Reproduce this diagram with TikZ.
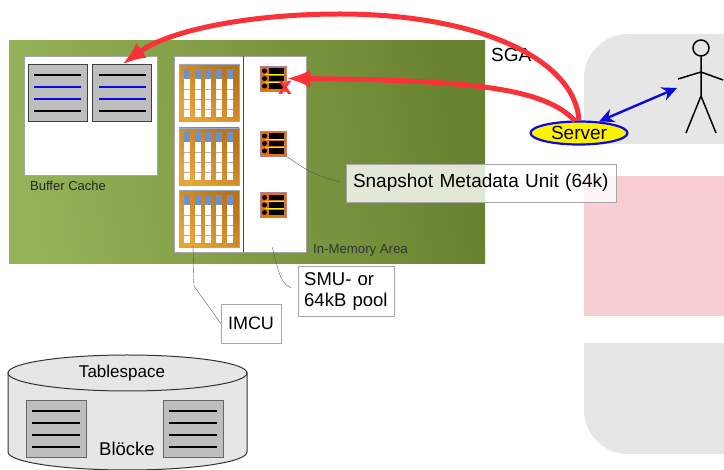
\documentclass[tikz,border=0pt]{standalone}
\usepackage{fontspec}
\setmainfont{Liberation Sans}
\usepackage{xcolor}
\usetikzlibrary{arrows.meta,calc,shapes.geometric}
\definecolor{pinkarea}{RGB}{249,205,212}
\definecolor{grayarea}{RGB}{230,230,230}
\definecolor{blockgray}{RGB}{190,190,190}
\definecolor{sgared}{RGB}{250,50,55}
\definecolor{sgablue}{RGB}{10,10,225}
\definecolor{imcuframe}{RGB}{150,170,200}
\definecolor{imcuhead}{RGB}{110,145,200}
\definecolor{imculight}{RGB}{232,165,55}
\definecolor{imcudark}{RGB}{185,115,25}
\definecolor{sgalight}{RGB}{148,178,88}
\definecolor{sgadark}{RGB}{105,130,48}
\tikzset{
  blockbox/.style={draw=black!75,line width=1pt,fill=blockgray,inner sep=0pt,minimum width=59,minimum height=57},
  whitebox/.style={draw=gray!70,fill=white,inner sep=0pt},
  labelbox/.style={draw=gray!70,fill=white,inner sep=0pt},
  leader/.style={draw=black!70,line width=0.35pt},
  redarrow/.style={draw=sgared,line width=5pt,-{Latex[length=24pt,width=18pt]}},
}
% block with four rows, #4 = colour of the two middle rows
\newcommand{\blockicon}[4]{
\node[blockbox] (#1) at (#2,#3) {};
\foreach \y/\rowcol in {-18/black,-6/#4,6/#4,18/black}
  \draw[draw=\rowcol,line width=2pt] ($(#1)+(-23.5,\y)$) -- ($(#1)+(23.5,\y)$);
}
% one column unit of the in-memory area
\newcommand{\imcuunit}[3]{
\node[draw=imcuframe,line width=0.8pt,inner sep=0pt,minimum width=60,minimum height=57,left color=imculight,right color=imcudark,shading angle=135] (#1) at (#2,#3) {};
\foreach \x in {-22,-11,-1,10,21} {
  \fill[white] ($(#1)+(\x-3,-24)$) rectangle ($(#1)+(\x+3,24)$);
  \fill[imcuhead] ($(#1)+(\x-3,-24)$) rectangle ($(#1)+(\x+3,-14)$);
  \foreach \y in {-4,6,16}
    \draw[gray!60,line width=0.4pt] ($(#1)+(\x-3,\y)$) -- ($(#1)+(\x+3,\y)$);
}
}
\newcommand{\smuicon}[3]{
\node[draw=imcuframe!75!red,line width=0.8pt,fill=orange!90!black,inner sep=0pt,minimum width=26,minimum height=25] (#1) at (#2,#3) {};
\foreach \y in {-7.5,0,7.5} {
  \fill[black] ($(#1)+(-8.5,\y)$) circle (2.5);
  \fill[black] ($(#1)+(-4,\y-2.8)$) rectangle ($(#1)+(11,\y+2.8)$);
}
\foreach \y in {-3.75,3.75}
  \draw[yellow,line width=1pt] ($(#1)+(-8.5,\y)$) -- ($(#1)+(11,\y)$);
}

\begin{document}
\begin{tikzpicture}[x=1pt,y=-1pt]
\useasboundingbox (0,0) rectangle (724,470);
% areas on the right
\fill[grayarea] (724,144) -- (584,144) -- (584,78) arc (180:270:44) -- (724,34) -- cycle;
\fill[pinkarea] (584,176) rectangle (724,316);
\fill[grayarea] (724,343) -- (584,343) -- (584,410) arc (180:90:44) -- (724,454) -- cycle;
% SGA
\fill[left color=sgalight,right color=sgadark,shading angle=100] (9,41) rectangle (485,264);
\node[whitebox,minimum width=133,minimum height=119] (cache) at (90.5,115.5) {};
\node[whitebox,minimum width=132,minimum height=196] (inmem) at (240,154) {};
\draw[black!70,line width=0.5pt] (243,56) -- (243,252);
\blockicon{bufferA}{57.5}{93.5}{sgablue}
\blockicon{bufferB}{122}{93.5}{sgablue}
\imcuunit{imcuA}{209}{93}
\imcuunit{imcuB}{209}{156.5}
\imcuunit{imcuC}{209}{219}
\smuicon{smuA}{273}{78.5}
\smuicon{smuB}{273}{143.5}
\smuicon{smuC}{273}{205}
\node[anchor=west,inner sep=0pt,font=\fontsize{13}{15}\selectfont,text=black!85] (cachelabel) at (30,186) {Buffer Cache};
\node[anchor=west,inner sep=0pt,font=\fontsize{13.2}{15}\selectfont,text=black!80] (arealabel) at (313,250) {In-Memory Area};
\node[anchor=west,inner sep=0pt,font=\fontsize{19}{22}\selectfont] (sga) at (491,55) {SGA};
% labels
\node[labelbox,fill opacity=0.8,text opacity=1,minimum width=270,minimum height=38,align=left,text width=256,inner xsep=7pt,font=\fontsize{19}{22}\selectfont] (snapshot) at (481,183) {Snapshot Metadata Unit (64k)};
\node[labelbox,minimum width=96,minimum height=49,align=left,anchor=north west,text width=84,inner sep=6pt,font=\fontsize{18.5}{22}\selectfont] (pool) at (298,266) {SMU- or\\[-1pt]64kB pool};
\node[labelbox,minimum width=60,minimum height=39,font=\fontsize{18}{22}\selectfont] (imculabel) at (251,323.5) {IMCU};
\coordinate (poolstart) at (272,247);
\coordinate (imcustart) at (193,245);
\draw[leader,shorten >=6pt] (smuB.south east) .. controls (300,165) and (310,175) .. (snapshot.west);
\draw[leader,shorten >=8pt] (poolstart) .. controls (278,265) and (278,282) .. (pool.west);
\draw[leader] (imcustart) -- (194,286) -- (imculabel.west);
% server and user
\node[draw=sgablue,line width=2.2pt,fill=yellow,ellipse,inner sep=0pt,minimum width=97,minimum height=23,font=\fontsize{19}{22}\selectfont] (server) at (579,133) {Server};
\coordinate (person) at (677,88);
\draw[black,line width=1.5pt] (701,48) circle (8);
\draw[black,line width=1.5pt] (701,56) -- (701,96) (678,79) -- (701,72) -- (723,80) (686,133) -- (701,96) -- (716,133);
\draw[sgablue,line width=2.4pt,{Stealth[length=15pt,width=14pt]}-{Stealth[length=15pt,width=14pt]}] (server.30) -- (person);
% red arrows
\draw[redarrow] (server.north) .. controls (575,60) and (480,14) .. (340,14) .. controls (250,14) and (170,30) .. (bufferB.north);
\draw[redarrow] (575,121) .. controls (545,88) and (470,80) .. (smuA.east);
\node[text=sgared,inner sep=0pt,font=\fontsize{25}{25}\selectfont\bfseries] (cross) at (285,88) {x};
% tablespace
\draw[black!80,line width=1pt,fill=grayarea] (8,373) -- (8,452) arc (180:0:119.5 and 18) -- (247,373) -- cycle;
\draw[black!80,line width=1pt,fill=grayarea] (127.5,373) ellipse (119.5 and 18);
\node[font=\fontsize{17}{20}\selectfont] (tablespace) at (122,373) {Tablespace};
\foreach \n/\x in {tsA/56,tsB/193} {
  \node[blockbox,draw=black!60,minimum width=60] (\n) at (\x,429.5) {};
  \foreach \y in {-18,-6,6,18}
    \draw[black,line width=2pt] ($(\n)+(-24,\y)$) -- ($(\n)+(24,\y)$);
}
\node[font=\fontsize{18.5}{22}\selectfont] (bloecke) at (127,449) {Blöcke};
\end{tikzpicture}
\end{document}
